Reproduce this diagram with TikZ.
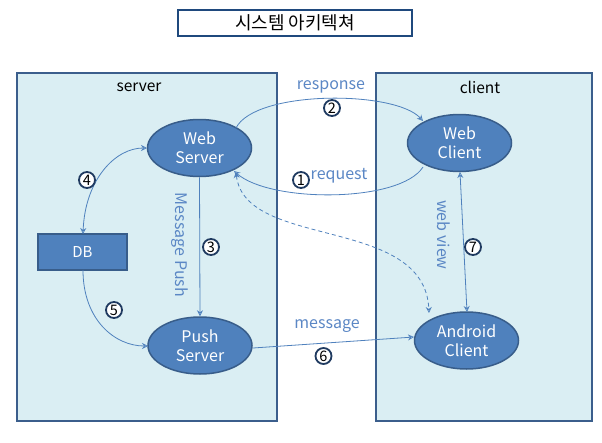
\documentclass[tikz,border=0pt]{standalone}
\usepackage{fontspec}
\setmainfont{Noto Sans CJK KR}
\usetikzlibrary{shapes.geometric,arrows.meta}
\definecolor{boxfill}{HTML}{DAEEF3}
\definecolor{boxline}{HTML}{3B5E8C}
\definecolor{ellfill}{HTML}{4F81BD}
\definecolor{ellline}{HTML}{385D8A}
\definecolor{arrowc}{HTML}{4F81BD}
\definecolor{labelc}{HTML}{5B87C5}
\definecolor{numline}{HTML}{1F3A60}
\definecolor{titleline}{HTML}{1F497D}
\tikzset{
  container/.style={draw=boxline,fill=boxfill,line width=1.5pt},
  ellnode/.style={ellipse,draw=ellline,fill=ellfill,line width=1.5pt,minimum width=104pt,minimum height=57pt,inner sep=0pt,text=white,align=center,font=\fontsize{16}{19}\selectfont},
  dbnode/.style={rectangle,draw=ellline,fill=ellfill,line width=1.5pt,minimum width=89pt,minimum height=36pt,inner sep=0pt,text=white,font=\fontsize{15}{18}\selectfont},
  conn/.style={draw=arrowc,line width=0.8pt,-{Stealth[length=6pt,width=6pt,open]}},
  biconn/.style={draw=arrowc,line width=0.8pt,{Stealth[length=6pt,width=6pt,open]}-{Stealth[length=6pt,width=6pt,open]}},
  lbl/.style={text=labelc,font=\fontsize{16}{18}\selectfont,inner sep=0pt},
  numc/.style={circle,draw=numline,line width=1.8pt,fill=white,inner sep=0pt,minimum size=16pt,font=\fontsize{14.5}{14.5}\selectfont},
  cont lbl/.style={text=black,font=\fontsize{15.5}{18}\selectfont,inner sep=0pt}
}
\begin{document}
\begin{tikzpicture}[x=1pt,y=-1pt]
\useasboundingbox (0,0) rectangle (602,442);
\fill[white] (0,0) rectangle (602,442);
% title
\node[draw=titleline,line width=1.5pt,fill=white,minimum width=234pt,minimum height=26pt,inner sep=0pt,font=\fontsize{18}{20}\selectfont] (title) at (295,23) {시스템 아키텍쳐};
% containers
\draw[container] (17,73) rectangle (277,421);
\draw[container] (376,73) rectangle (592,421);
\node[cont lbl] (serverlbl) at (139,87) {server};
\node[cont lbl] (clientlbl) at (480,87) {client};
% nodes
\node[ellnode] (ws) at (199.5,148) {Web\\Server};
\node[ellnode] (wc) at (459.5,143) {Web\\Client};
\node[dbnode] (db) at (82.5,252) {DB};
\node[ellnode] (ps) at (200,345.5) {Push\\Server};
\node[ellnode] (ac) at (466.5,340.5) {Android\\Client};
% connectors
\coordinate (wsTR) at (236,128);
\coordinate (wcTL) at (423,121);
\draw[conn] (wsTR) .. controls (255,90) and (395,90) .. (wcTL);
\coordinate (wcBL) at (423,167);
\coordinate (wsBR) at (234,171);
\draw[conn] (wcBL) .. controls (400,203) and (270,203) .. (wsBR);
\coordinate (wsBR2) at (236,172);
\coordinate (acT) at (429,313);
\draw[biconn,dashed,dash pattern=on 4pt off 3pt] (wsBR2) .. controls (245,250) and (425,215) .. (acT);
\coordinate (dbT) at (83,234);
\coordinate (wsL) at (147,148);
\draw[biconn] (dbT) .. controls (85,180) and (115,148) .. (wsL);
\coordinate (dbB) at (83,270);
\coordinate (psL) at (148,346);
\draw[conn] (dbB) .. controls (83,320) and (115,346) .. (psL);
\draw[conn] (ws.south) -- (ps.north);
\coordinate (psR) at (253,348);
\coordinate (acL) at (414,337);
\draw[conn] (psR) -- (acL);
\coordinate (wcB) at (460,172);
\coordinate (acT2) at (467,312);
\draw[biconn] (wcB) -- (acT2);
% labels
\node[lbl] (resp) at (331,87) {response};
\node[lbl] (req) at (339,176) {request};
\node[lbl] (msg) at (327,326) {message};
\node[lbl,rotate=-90] (mpush) at (180,245) {Message Push};
\node[lbl,rotate=-90] (wview) at (444,235) {web view};
% numbers
\node[numc] (n1) at (301,180) {1};
\node[numc] (n2) at (332,108) {2};
\node[numc] (n3) at (211,247) {3};
\node[numc] (n4) at (87,180) {4};
\node[numc] (n5) at (114,310) {5};
\node[numc] (n6) at (323.5,356) {6};
\node[numc] (n7) at (473,247) {7};
\end{tikzpicture}
\end{document}
